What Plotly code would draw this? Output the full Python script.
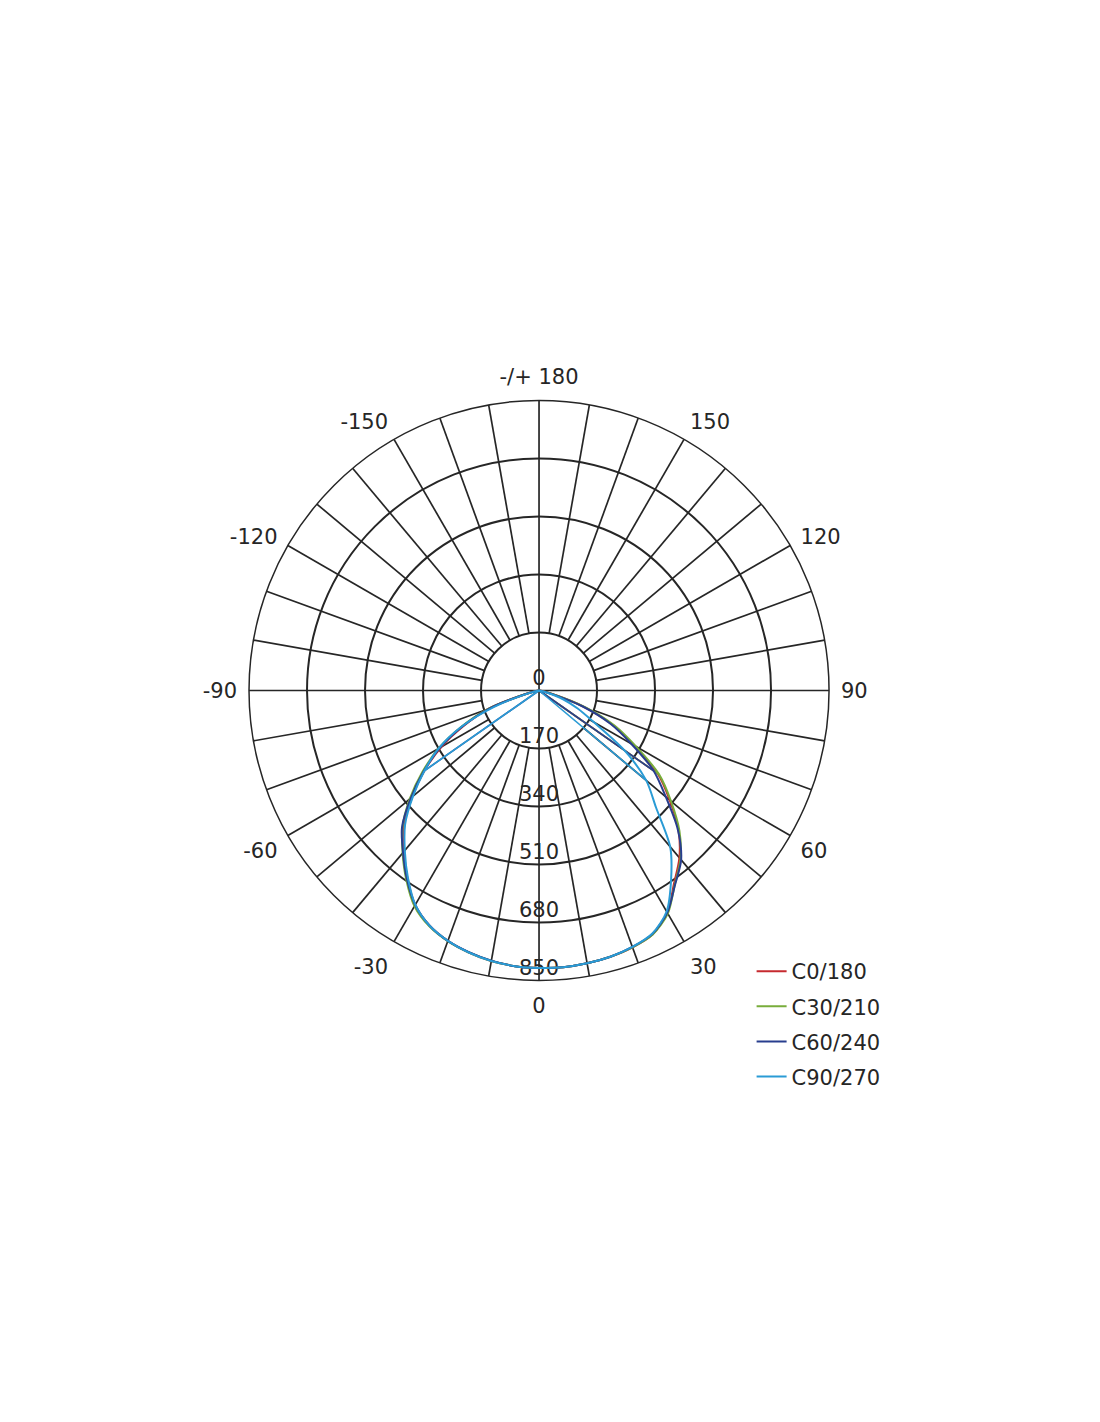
import plotly.graph_objects as go

# Gamma angle in degrees: 0 points straight down, positive to the right
gamma = list(range(-90, 95, 5))

# Luminous intensity (cd), one value per gamma angle
c0_180 = [0, 0, 5, 40, 160, 240, 330, 410, 485, 560, 615, 672, 726, 760, 781, 795, 805, 811,
          813,
          814, 812, 808, 801, 788, 752, 690, 640, 578, 500, 425, 320, 238, 140, 40, 5, 0, 0]
c30_210 = [0, 0, 5, 45, 160, 250, 340, 418, 495, 566, 622, 678, 730, 762, 782, 795, 805, 811,
           813,
           814, 812, 808, 801, 789, 755, 694, 645, 582, 505, 430, 328, 245, 145, 42, 5, 0, 0]
c60_240 = [0, 0, 5, 40, 155, 245, 335, 412, 490, 568, 620, 675, 726, 760, 781, 794, 804, 811,
           813,
           814, 812, 808, 800, 787, 752, 695, 648, 575, 485, 410, 312, 232, 135, 38, 5, 0, 0]
c90_270 = [0, 0, 3, 30, 140, 250, 340, 410, 482, 555, 612, 670, 725, 760, 781, 795, 805, 811,
           813,
           814, 812, 808, 800, 786, 748, 675, 598, 485, 410, 305, 185, 125, 75, 20, 0, 0, 0]

names = ["C0/180", "C30/210", "C60/240", "C90/270"]
series = [c0_180, c30_210, c60_240, c90_270]
colors = ["#c62a2f", "#78ad3b", "#283e8e", "#2a9bd5"]

# gamma where the drawn line jumps back from the centre (None = no jump)
left_close = [None, None, -55, -55]
right_close = [55, 55, 55, 50]

ring_values = [0, 170, 340, 510, 680, 850]
angle_ticks = [0, 30, 60, 90, 120, 150, 180, 210, 240, 270, 300, 330]
angle_labels = ["0", "30", "60", "90", "120", "150", "-/+ 180",
                "-150", "-120", "-90", "-60", "-30"]

INK = "#262626"
FONT = "DejaVu Sans"


def closing_segments(values, lc, rc):
    # straight lines from the centre out to a point of the curve
    th, r = [], []
    for g in (lc, rc):
        if g is None:
            continue
        th += [0, g, None]
        r += [0, values[gamma.index(g)], None]
    return th, r


def spokes():
    # spokes every 10 deg, only the main axes run through the centre
    sr, st = [], []
    for a in range(0, 360, 10):
        start = 0 if a % 90 == 0 else ring_values[1]
        sr += [start, ring_values[-1], None]
        st += [a, a, None]
    return sr, st


fig = go.Figure()

sr, st = spokes()
fig.add_trace(go.Scatterpolar(r=sr, theta=st, mode="lines",
                              line=dict(color=INK, width=1.7),
                              showlegend=False, hoverinfo="skip"))

fig.add_trace(go.Scatterpolar(r=ring_values, theta=[0] * len(ring_values),
                              mode="text", text=[str(v) for v in ring_values],
                              textposition="top center",
                              textfont=dict(family=FONT, size=21, color=INK),
                              showlegend=False, hoverinfo="skip"))

for name, vals, col, lc, rc in zip(names, series, colors, left_close, right_close):
    fig.add_trace(go.Scatterpolar(r=vals, theta=gamma, mode="lines", name=name,
                                  legendgroup=name,
                                  line=dict(color=col, width=2, shape="spline",
                                            smoothing=0.8)))
    th, r = closing_segments(vals, lc, rc)
    fig.add_trace(go.Scatterpolar(r=r, theta=th, mode="lines", legendgroup=name,
                                  showlegend=False, hoverinfo="skip",
                                  line=dict(color=col, width=1.6)))

fig.update_layout(
    width=1100,
    height=1422,
    margin=dict(l=0, r=0, t=0, b=0),
    paper_bgcolor="white",
    font=dict(family=FONT, size=21, color=INK),
    polar=dict(
        domain=dict(x=[0.2191, 0.7464], y=[0.3161, 0.7240]),
        bgcolor="white",
        radialaxis=dict(range=[0, 850], tickvals=ring_values[1:], showticklabels=False,
                        ticks="", showline=False, gridcolor=INK, gridwidth=1.5),
        angularaxis=dict(rotation=-90, direction="counterclockwise", tickmode="array",
                         tickvals=angle_ticks, ticktext=angle_labels, showgrid=False,
                         linecolor=INK, linewidth=1.5, ticks="outside", ticklen=7,
                         tickcolor="rgba(0,0,0,0)",
                         tickfont=dict(family=FONT, size=21, color=INK)),
    ),
    legend=dict(x=0.676, y=0.3368, xanchor="left", yanchor="top",
                font=dict(family=FONT, size=21, color=INK), tracegroupgap=4.8,
                bgcolor="rgba(0,0,0,0)"),
)

fig.write_html("out.html")
